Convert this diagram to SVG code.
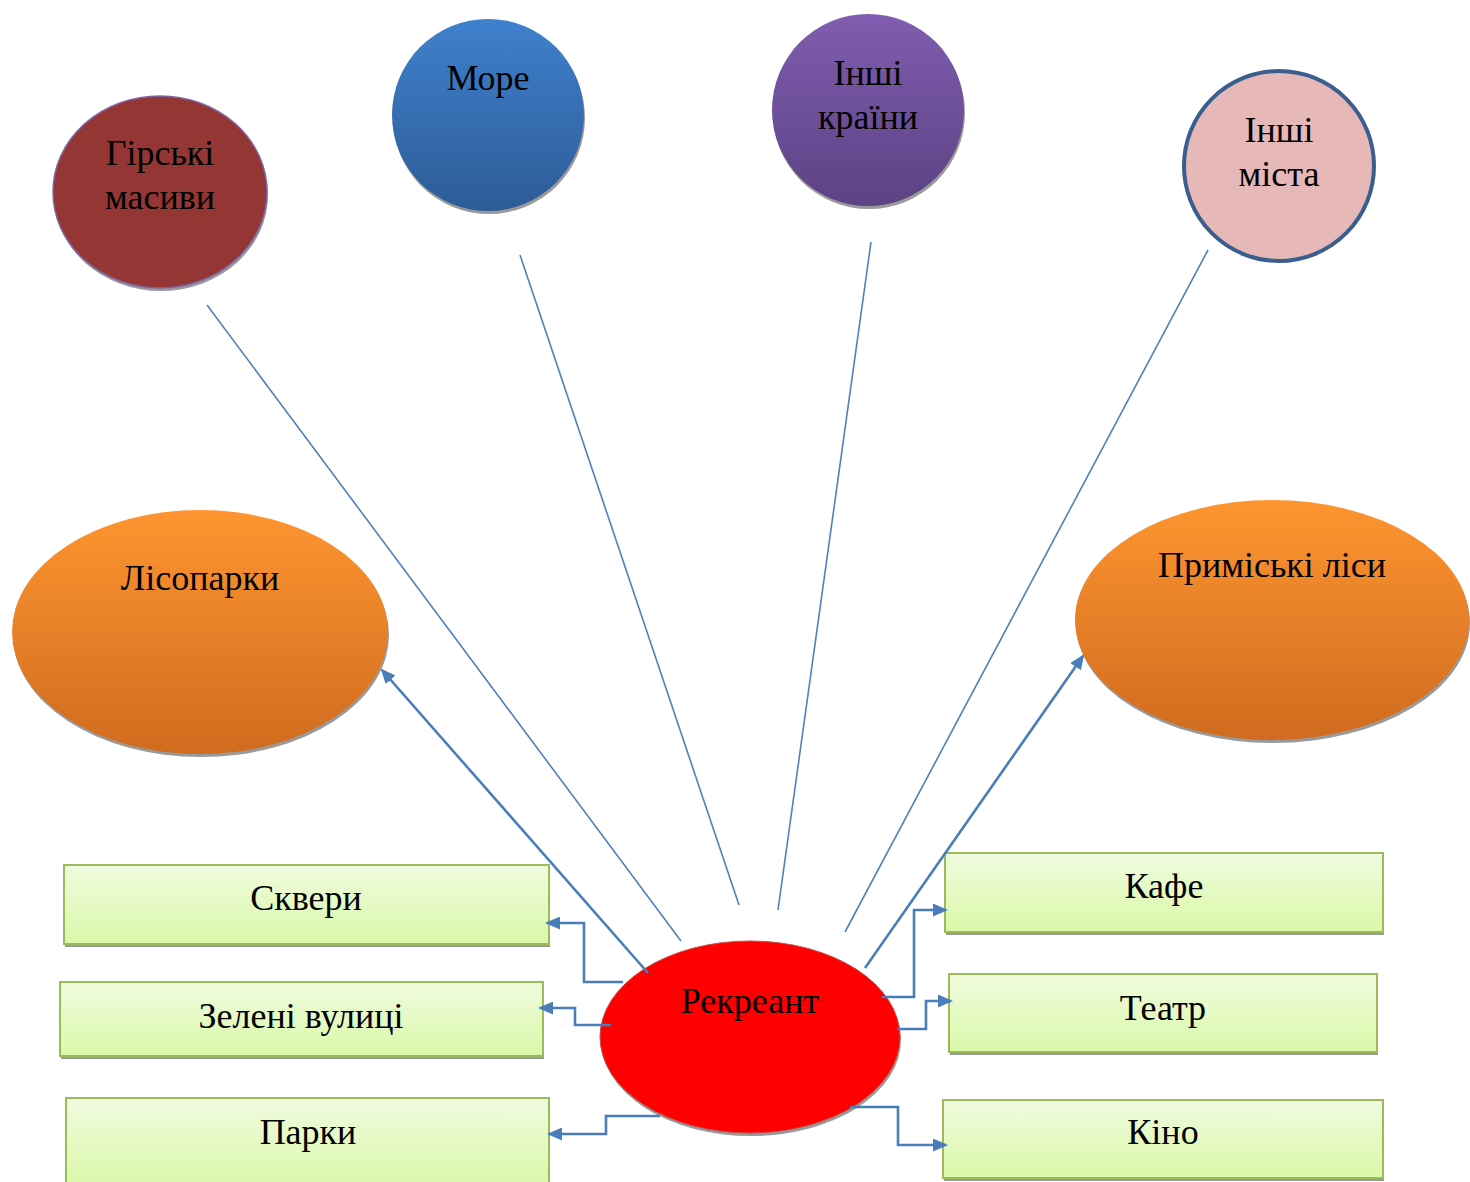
<svg xmlns="http://www.w3.org/2000/svg" width="1470" height="1182" viewBox="0 0 1470 1182">
<defs>
<linearGradient id="gBlue" x1="0" y1="0" x2="0" y2="1"><stop offset="0" stop-color="#3F80CD"/><stop offset="1" stop-color="#2D5C97"/></linearGradient>
<linearGradient id="gPurple" x1="0" y1="0" x2="0" y2="1"><stop offset="0" stop-color="#805DB0"/><stop offset="1" stop-color="#5C4283"/></linearGradient>
<linearGradient id="gOrange" x1="0" y1="0" x2="0" y2="1"><stop offset="0" stop-color="#FE9530"/><stop offset="1" stop-color="#D06B1F"/></linearGradient>
<linearGradient id="gGreen" x1="0" y1="0" x2="0" y2="1"><stop offset="0" stop-color="#F0FBDF"/><stop offset="1" stop-color="#DAF8A8"/></linearGradient>
<marker id="arr" markerWidth="15" markerHeight="13" refX="13" refY="6.5" orient="auto" markerUnits="userSpaceOnUse" viewBox="0 0 15 13"><path d="M0,0 L15,6.5 L0,13 z" fill="#4A7EBB"/></marker>
</defs>
<style>
text{font-family:"Liberation Serif","Times New Roman",serif;font-size:36px;fill:#000;text-anchor:middle}
.shadow{fill:#9a9a9a}
.box{fill:url(#gGreen);stroke:#9BBB59;stroke-width:2}
.thin{stroke:#4F81BD;stroke-width:1.6;fill:none}
.thick{stroke:#4A7EBB;stroke-width:2.6;fill:none;marker-end:url(#arr)}
</style>
<rect width="1470" height="1182" fill="#fff"/>
<g id="connectors">
<line class="thin" x1="207" y1="305" x2="681" y2="941"/>
<line class="thin" x1="520" y1="255" x2="739" y2="905"/>
<line class="thin" x1="871" y1="242" x2="778" y2="910"/>
<line class="thin" x1="1208" y1="250" x2="845" y2="932"/>
</g>
<g id="node-gorski"><ellipse class="shadow" cx="161" cy="195" rx="107" ry="96"/><ellipse cx="160" cy="192" rx="107" ry="96" fill="#943634" stroke="#8064A2" stroke-width="1.5"/><text x="160" y="165">Гірські</text><text x="160" y="209">масиви</text></g>
<g id="node-more"><ellipse class="shadow" cx="489" cy="118" rx="96" ry="96"/><ellipse cx="488" cy="115" rx="96" ry="96" fill="url(#gBlue)"/><text x="488" y="90">Море</text></g>
<g id="node-krainy"><ellipse class="shadow" cx="869" cy="113" rx="96" ry="96"/><ellipse cx="868" cy="110" rx="96" ry="96" fill="url(#gPurple)"/><text x="868" y="85">Інші</text><text x="868" y="129">країни</text></g>
<g id="node-mista"><circle cx="1279" cy="166" r="95" fill="#E6B8B7" stroke="#3A5F8F" stroke-width="4"/><text x="1279" y="142">Інші</text><text x="1279" y="186">міста</text></g>
<g id="node-lisoparky"><ellipse class="shadow" cx="201" cy="635" rx="188" ry="122"/><ellipse cx="200" cy="632" rx="188" ry="122" fill="url(#gOrange)"/><text x="200" y="590">Лісопарки</text></g>
<g id="node-prymiski"><ellipse class="shadow" cx="1273" cy="623" rx="197" ry="120"/><ellipse cx="1272" cy="620" rx="197" ry="120" fill="url(#gOrange)"/><text x="1272" y="577">Приміські ліси</text></g>
<g id="node-skvery"><rect class="shadow" x="65" y="868" width="485" height="79"/><rect class="box" x="64" y="865" width="485" height="79"/><text x="306" y="910">Сквери</text></g>
<g id="node-zeleni"><rect class="shadow" x="61" y="985" width="483" height="74"/><rect class="box" x="60" y="982" width="483" height="74"/><text x="301" y="1028">Зелені вулиці</text></g>
<g id="node-parky"><rect class="box" x="66" y="1098" width="483" height="90"/><text x="308" y="1144">Парки</text></g>
<g id="node-kafe"><rect class="shadow" x="946" y="856" width="438" height="79"/><rect class="box" x="945" y="853" width="438" height="79"/><text x="1164" y="898">Кафе</text></g>
<g id="node-teatr"><rect class="shadow" x="950" y="977" width="428" height="78"/><rect class="box" x="949" y="974" width="428" height="78"/><text x="1163" y="1020">Театр</text></g>
<g id="node-kino"><rect class="shadow" x="944" y="1103" width="440" height="78"/><rect class="box" x="943" y="1100" width="440" height="78"/><text x="1163" y="1144">Кіно</text></g>
<g id="node-rekreant"><ellipse class="shadow" cx="751" cy="1040" rx="150" ry="96"/><ellipse cx="750" cy="1037" rx="150" ry="96" fill="#FF0000" stroke="#C0504D" stroke-width="1"/><text x="750" y="1013">Рекреант</text></g>
<g id="connectors-arrows">
<line class="thick" x1="648" y1="973" x2="382" y2="670"/>
<line class="thick" x1="865" y1="968" x2="1083" y2="656"/>
<polyline class="thick" points="623,982 584,982 584,923 547,923"/>
<polyline class="thick" points="611,1025 575,1025 575,1008 540,1008"/>
<polyline class="thick" points="660,1116 606,1116 606,1134 549,1134"/>
<polyline class="thick" points="882,997 914,997 914,910 946,910"/>
<polyline class="thick" points="897,1029 926,1029 926,1001 951,1001"/>
<polyline class="thick" points="850,1107 898,1107 898,1145 946,1145"/>
</g>
</svg>
